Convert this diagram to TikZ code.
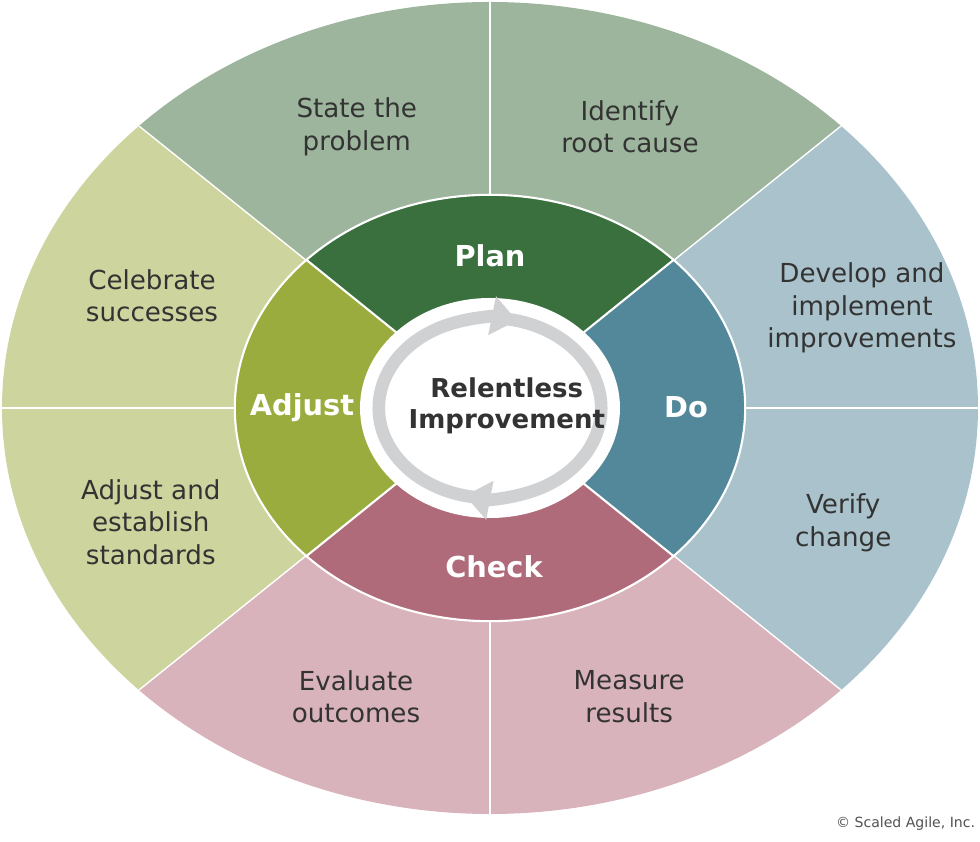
\documentclass[tikz,border=0pt]{standalone}
\usepackage{fontspec}
\setmainfont{DejaVu Sans}
\usepackage{xcolor}
\usepackage{tikz}
\usetikzlibrary{arrows.meta}
\definecolor{planD}{HTML}{3A703D}
\definecolor{planL}{HTML}{9CB59C}
\definecolor{doD}{HTML}{528899}
\definecolor{doL}{HTML}{A9C2CB}
\definecolor{checkD}{HTML}{B06B7B}
\definecolor{checkL}{HTML}{D9B3BC}
\definecolor{adjD}{HTML}{9BAC3F}
\definecolor{adjL}{HTML}{CDD49E}
\definecolor{txt}{HTML}{333333}
\definecolor{cycgray}{HTML}{D0D1D3}
\tikzset{
  stepbox/.style={text=txt,align=center,font=\fontsize{18.6}{23}\selectfont},
  phase/.style={text=white,font=\fontsize{20.5}{24}\selectfont\bfseries},
  sep/.style={white,line width=1pt},
  cycarrow/.style={cycgray,line width=9pt,-{Triangle[width=27pt,length=18pt]}}
}
\begin{document}
\begin{tikzpicture}[line join=round]
  \useasboundingbox (-12.25,-10.85) rectangle (12.25,10.2);
  \coordinate (O) at (0,0);
  \coordinate (E0) at (0:12.2 and 10.15);
  \coordinate (E1) at (44:12.2 and 10.15);
  \coordinate (E2) at (90:12.2 and 10.15);
  \coordinate (E3) at (136:12.2 and 10.15);
  \coordinate (E4) at (180:12.2 and 10.15);
  \coordinate (E5) at (224:12.2 and 10.15);
  \coordinate (E6) at (270:12.2 and 10.15);
  \coordinate (E7) at (316:12.2 and 10.15);
  \coordinate (M1) at (44:6.38 and 5.33);
  \coordinate (M3) at (136:6.38 and 5.33);
  \coordinate (M5) at (224:6.38 and 5.33);
  \coordinate (M7) at (316:6.38 and 5.33);
  % outer ring
  \fill[planL] (O) -- (E1) arc[start angle=44,end angle=136,x radius=12.2,y radius=10.15] -- cycle;
  \fill[adjL] (O) -- (E3) arc[start angle=136,end angle=224,x radius=12.2,y radius=10.15] -- cycle;
  \fill[checkL] (O) -- (E5) arc[start angle=224,end angle=316,x radius=12.2,y radius=10.15] -- cycle;
  \fill[doL] (O) -- (E7) arc[start angle=-44,end angle=44,x radius=12.2,y radius=10.15] -- cycle;
  \draw[sep] (O) -- (E0);
  \draw[sep] (O) -- (E1);
  \draw[sep] (O) -- (E2);
  \draw[sep] (O) -- (E3);
  \draw[sep] (O) -- (E4);
  \draw[sep] (O) -- (E5);
  \draw[sep] (O) -- (E6);
  \draw[sep] (O) -- (E7);
  % PDCA ring
  \fill[planD] (O) -- (M1) arc[start angle=44,end angle=136,x radius=6.38,y radius=5.33] -- cycle;
  \fill[adjD] (O) -- (M3) arc[start angle=136,end angle=224,x radius=6.38,y radius=5.33] -- cycle;
  \fill[checkD] (O) -- (M5) arc[start angle=224,end angle=316,x radius=6.38,y radius=5.33] -- cycle;
  \fill[doD] (O) -- (M7) arc[start angle=-44,end angle=44,x radius=6.38,y radius=5.33] -- cycle;
  \draw[white,line width=1.5pt] (O) ellipse[x radius=6.38,y radius=5.33];
  \draw[white,line width=1.5pt] (O) -- (M1);
  \draw[white,line width=1.5pt] (O) -- (M3);
  \draw[white,line width=1.5pt] (O) -- (M5);
  \draw[white,line width=1.5pt] (O) -- (M7);
  \fill[white] (O) ellipse[x radius=3.25,y radius=2.75];
  \draw[cycarrow] (262:2.78 and 2.25) arc[start angle=262,end angle=76,x radius=2.78,y radius=2.25];
  \draw[cycarrow] (84:2.78 and 2.25) arc[start angle=84,end angle=-103,x radius=2.78,y radius=2.25];
  % labels
  \node[stepbox] (state) at (-3.33,7.03) {State the\\problem};
  \node[stepbox] (root) at (3.5,7.03) {Identify\\root cause};
  \node[stepbox] (celebrate) at (-8.45,2.8) {Celebrate\\successes};
  \node[stepbox] (standards) at (-8.48,-2.85) {Adjust and\\establish\\standards};
  \node[stepbox] (develop) at (9.3,2.5) {Develop and\\implement\\improvements};
  \node[stepbox] (verify) at (8.83,-2.87) {Verify\\change};
  \node[stepbox] (evaluate) at (-3.35,-7.22) {Evaluate\\outcomes};
  \node[stepbox] (measure) at (3.48,-7.22) {Measure\\results};
  \node[phase] (plan) at (0,3.8) {Plan};
  \node[phase] (do) at (4.9,0.02) {Do};
  \node[phase] (check) at (0.1,-3.98) {Check};
  \node[phase] (adjust) at (-4.7,0.02) {Adjust};
  \node[text=txt,align=center,font=\fontsize{18.5}{22.5}\selectfont\bfseries] (core) at (0.42,0.05) {Relentless\\Improvement};
  \node[anchor=east,text=txt!85,font=\fontsize{10}{12}\selectfont] (copy) at (12.25,-10.38) {© Scaled Agile, Inc.};
\end{tikzpicture}
\end{document}
